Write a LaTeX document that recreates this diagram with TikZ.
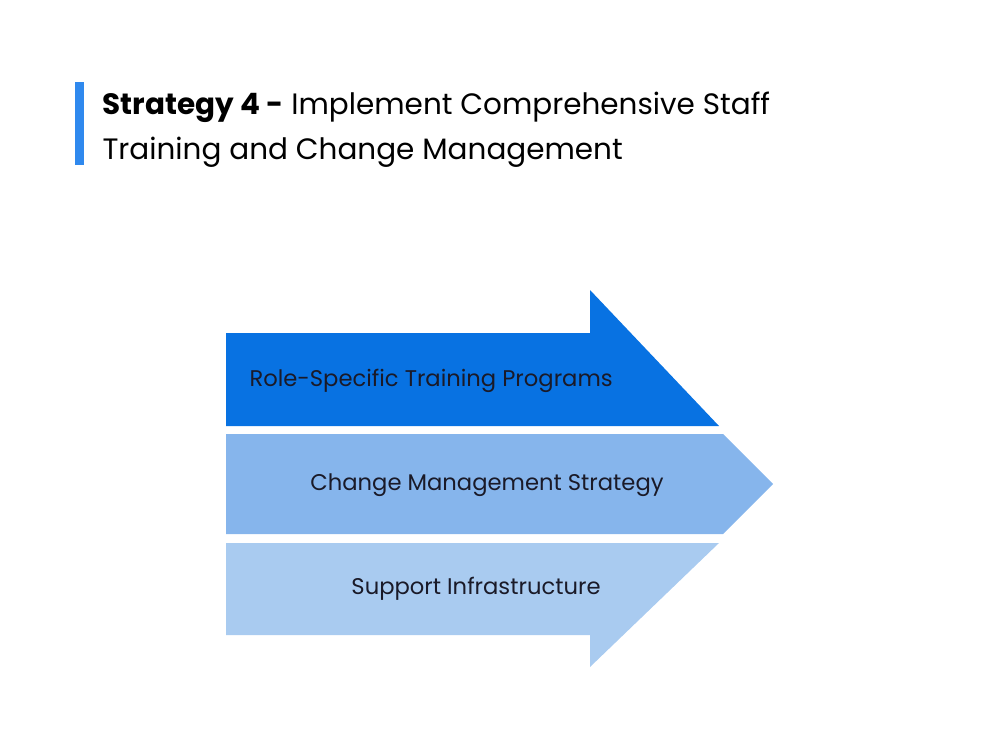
\documentclass[tikz,border=0pt]{standalone}
\usepackage{fontspec}
\setmainfont{Poppins}
\usepackage{tikz}
\tikzset{every picture/.style={line width=0.75pt}}
\definecolor{barblue}{RGB}{47,137,238}
\definecolor{darkblue}{RGB}{8,114,226}
\definecolor{midblue}{RGB}{134,181,236}
\definecolor{lightblue}{RGB}{169,203,240}
\definecolor{inktext}{RGB}{26,26,40}
\tikzset{
  titletext/.style={anchor=base west,inner sep=0pt,font=\fontsize{22.1}{26}\selectfont,text=black},
  boxtext/.style={inner sep=0pt,font=\fontsize{17}{20}\selectfont,text=inktext}
}

\begin{document}
\begin{tikzpicture}[x=0.75pt,y=0.75pt,yscale=-1,xscale=1]
%set diagram to 1000 by 750
\path[use as bounding box] (0,0) rectangle (1000,750);

%Shape: Rectangle [id:title bar]
\fill[barblue] (75,82) rectangle (84,165);
%Shape: Polygon [id:top arrow]
\fill[darkblue] (226,333) -- (590,333) -- (590,290) -- (719,426) -- (226,426) -- cycle;
%Shape: Polygon [id:middle arrow]
\fill[midblue] (226,434) -- (723,434) -- (773,484) -- (723,534) -- (226,534) -- cycle;
%Shape: Polygon [id:bottom arrow]
\fill[lightblue] (226,543) -- (719,543) -- (590,667) -- (590,635) -- (226,635) -- cycle;

% Text Node
\node[titletext] (title1) at (102,114) {\textbf{Strategy 4 -} Implement Comprehensive Staff};
% Text Node
\node[titletext] (title2) at (102,159) {Training and Change Management};
% Text Node
\node[boxtext,anchor=west] (role) at (249,381) {Role-Specific Training Programs};
% Text Node
\node[boxtext] (change) at (487,485) {Change Management Strategy};
% Text Node
\node[boxtext] (support) at (476,589) {Support Infrastructure};

\end{tikzpicture}
\end{document}
